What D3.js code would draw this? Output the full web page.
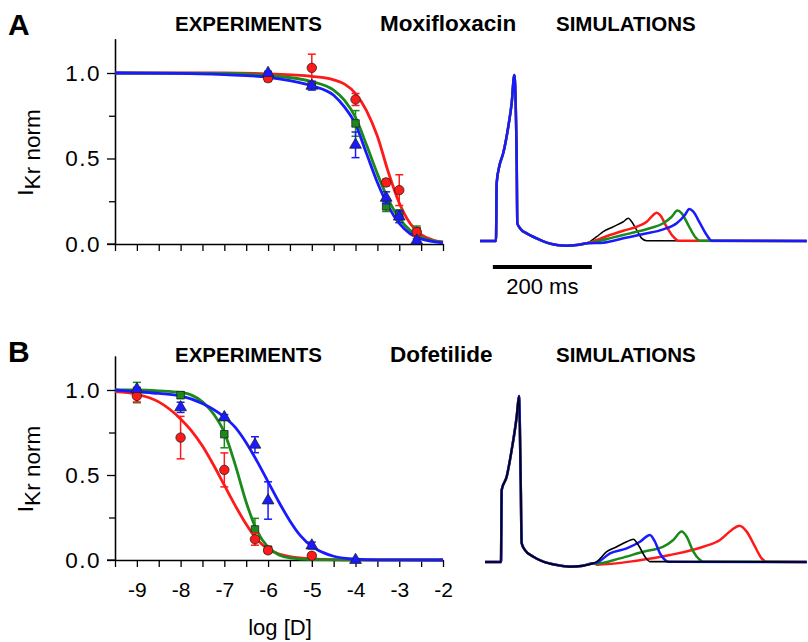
<!DOCTYPE html>
<html>
<head>
<meta charset="utf-8">
<script src="https://cdn.jsdelivr.net/npm/d3@7"></script>
<style>
body { margin: 0; background: #fff; }
svg { display: block; font-family: "Liberation Sans", Arial, sans-serif; }
</style>
</head>
<body>
<div class="chart-area"></div>
<script>
// ---- dose-response data (log [D] in M, normalised IKr) ----
const moxiDose = [-6, -5, -4, -3.3, -3, -2.6];
const moxiRed = [0.97, 1.03, 0.845, 0.36, 0.315, 0.07];
const moxiRedErr = [0.02, 0.08, 0.035, 0.02, 0.09, 0.025];
const moxiGreen = [0.98, 0.93, 0.705, 0.22, 0.17, 0.075];
const moxiGreenErr = [0.02, 0.02, 0.075, 0.03, 0.03, 0.03];
const moxiBlue = [1.0, 0.925, 0.58, 0.27, 0.16, 0.02];
const moxiBlueErr = [0.01, 0.025, 0.075, 0.035, 0.035, 0.01];

// fitted curves: [log D, IKr norm]
const moxiRedFit = [[-9.5,1],[-7,1],[-6,0.995],[-5,0.98],[-4.5,0.96],[-4.25,0.935],[-4,0.88],[-3.75,0.78],[-3.5,0.63],[-3.25,0.42],[-3,0.24],[-2.75,0.12],[-2.5,0.055],[-2.25,0.025],[-2,0.012]];
const moxiGreenFit = [[-9.5,1],[-7,0.998],[-6,0.985],[-5,0.95],[-4.5,0.9],[-4.25,0.84],[-4,0.74],[-3.75,0.58],[-3.5,0.41],[-3.25,0.26],[-3,0.15],[-2.75,0.08],[-2.5,0.04],[-2.25,0.02],[-2,0.01]];
const moxiBlueFit = [[-9.5,1],[-8,0.998],[-7,0.99],[-6,0.975],[-5.5,0.955],[-5,0.925],[-4.5,0.87],[-4.25,0.8],[-4,0.7],[-3.75,0.53],[-3.5,0.36],[-3.25,0.22],[-3,0.12],[-2.75,0.06],[-2.5,0.03],[-2.25,0.015],[-2,0.007]];

const dofeRedDose = [-9, -8, -7, -6.3, -6, -5];
const dofeRed = [0.965, 0.72, 0.53, 0.122, 0.057, 0.025];
const dofeRedErr = [0.035, 0.125, 0.1, 0.035, 0.015, 0.015];
const dofeGreenDose = [-9, -8, -7, -6.3, -6];
const dofeGreen = [0.985, 0.97, 0.74, 0.18, 0.06];
const dofeGreenErr = [0.06, 0.02, 0.08, 0.065, 0.02];
const dofeBlueDose = [-9, -8, -7, -6.3, -6, -5, -4];
const dofeBlue = [1.005, 0.898, 0.84, 0.678, 0.35, 0.085, 0.0];
const dofeBlueErr = [0.01, 0.03, 0.015, 0.047, 0.11, 0.02, 0.005];

const dofeRedFit = [[-9.5,0.99],[-9,0.975],[-8.5,0.93],[-8,0.83],[-7.75,0.76],[-7.5,0.67],[-7.25,0.56],[-7,0.44],[-6.75,0.32],[-6.5,0.21],[-6.25,0.12],[-6,0.065],[-5.75,0.035],[-5.5,0.02],[-5,0.007],[-4,0.001],[-2,0]];
const dofeGreenFit = [[-9.5,1],[-9,1],[-8.5,0.995],[-8,0.985],[-7.75,0.97],[-7.5,0.93],[-7.25,0.86],[-7,0.75],[-6.75,0.56],[-6.5,0.34],[-6.25,0.17],[-6,0.075],[-5.75,0.03],[-5.5,0.012],[-5,0.002],[-2,0]];
const dofeBlueFit = [[-9.5,1],[-9,0.99],[-8.5,0.98],[-8,0.965],[-7.5,0.92],[-7,0.84],[-6.75,0.78],[-6.5,0.69],[-6.25,0.58],[-6,0.46],[-5.75,0.34],[-5.5,0.23],[-5.25,0.14],[-5,0.08],[-4.75,0.045],[-4.5,0.022],[-4,0.005],[-3.5,0.001],[-2,0]];

// ---- simulated traces: [time ms, normalised amplitude] ----
const moxiSimCommon = [[0,0],[32.3,0],[33.7,0.35],[39,0.45],[47,0.53],[57.2,0.69],[64,0.83],[69.3,1],[74.1,0.49],[75.4,0.107],[80.8,0.077],[94.3,0.046],[114.5,0.016],[134.7,-0.01],[155,-0.024],[175,-0.028],[195.4,-0.024],[215.6,-0.014]];
const moxiSimBlack = [[222,-0.004],[235.8,0.026],[249,0.056],[269.3,0.086],[289.5,0.116],[299.6,0.137],[306.5,0.116],[316.6,0.066],[326.7,0.016],[336.8,0.002],[660,0]];
const moxiSimRed = [[235.8,0.006],[262.6,0.036],[289.5,0.062],[316.6,0.086],[336.8,0.116],[350,0.157],[357,0.17],[363.6,0.157],[377,0.086],[390.5,0.026],[400.6,0.002],[660,0]];
const moxiSimGreen = [[235.8,-0.004],[269.3,0.022],[303,0.046],[343.4,0.077],[370.3,0.107],[387.3,0.146],[398.6,0.183],[407.5,0.167],[420.8,0.096],[434.3,0.026],[444.4,0.002],[660,0]];
const moxiSimBlue = [[249,-0.01],[289.5,0.016],[330,0.042],[370.3,0.07],[397.4,0.107],[414,0.157],[422.8,0.193],[430.9,0.177],[444.4,0.107],[458,0.036],[468,0.002],[660,0]];

const dofeSimCommon = [[10.1,0],[42.4,0],[43.8,0.434],[53.9,0.514],[64,0.675],[74.1,0.875],[78.8,1],[82.2,0.494],[84.2,0.113],[90.9,0.072],[107.7,0.032],[127.9,0.002],[155,-0.018],[181.8,-0.028],[208.7,-0.022],[228.9,-0.008]];
const dofeSimBlack = [[235.8,0.002],[256,0.062],[276.2,0.092],[296.4,0.122],[309.7,0.137],[319.8,0.102],[333.3,0.032],[343.4,0.002],[660,0]];
const dofeSimBlue = [[235.8,-0.004],[262.6,0.052],[296.4,0.082],[323.2,0.122],[343.4,0.163],[353.5,0.122],[363.6,0.052],[373.7,0.012],[380.4,0.002],[660,0]];
const dofeSimGreen = [[235.8,-0.01],[282.8,0.022],[330,0.062],[370.3,0.092],[390.5,0.133],[407.5,0.183],[417.6,0.152],[431,0.062],[444.4,0.012],[451,0.002],[660,0]];
const dofeSimRed = [[235.8,-0.016],[316.6,0.008],[383.8,0.042],[451,0.092],[484.8,0.133],[508.5,0.193],[523.9,0.219],[538.8,0.183],[555.6,0.092],[569,0.022],[579.2,0.002],[660,0]];

const doseTicks = d3.range(-9.5, -1.9, 0.5);
const doseLabels = [-9, -8, -7, -6, -5, -4, -3, -2];
const yMajor = [0, 0.5, 1.0];
const yMinor = [0.25, 0.75];
const scaleBarMs = [26, 226];

const RED = "#ff1a1a", GREEN = "#1a8a1a", BLUE = "#1a1aff";

let svg = d3.select(".chart-area").append("svg")
    .attr("width", 808)
    .attr("height", 642);

let xDose = d3.scaleLinear().domain([-9.5, -2]).range([115, 443]);
let yA = d3.scaleLinear().domain([0, 1.2]).range([244, 38.8]);
let yB = d3.scaleLinear().domain([0, 1.2]).range([560, 356]);
let tSim = d3.scaleLinear().domain([0, 660]).range([480, 806.7]);
let vA = d3.scaleLinear().domain([0, 1]).range([241, 75]);
let vB = d3.scaleLinear().domain([0, 1]).range([562, 396]);

function doseAxes(yScale, withLabels) {
    let g = svg.append("g");
    let yAxis = d3.axisLeft(yScale).tickValues(yMajor).tickFormat(d3.format(".1f"))
        .tickSize(8).tickSizeOuter(0).tickPadding(6);
    let yMin = d3.axisLeft(yScale).tickValues(yMinor).tickFormat("").tickSize(6).tickSizeOuter(0);
    // plain hyphen minus, as in the original figure
    let xAxis = d3.axisBottom(xDose).tickValues(doseTicks).tickSize(7).tickSizeOuter(0).tickPadding(15)
        .tickFormat(d => (withLabels && doseLabels.includes(d)) ? String(d) : "");

    g.append("g").attr("transform", "translate(115,0)").call(yMin);
    let ya = g.append("g").attr("transform", "translate(115,0)").call(yAxis);
    let xa = g.append("g").attr("transform", `translate(0,${yScale(0)})`).call(xAxis);

    g.selectAll("text").attr("font-family", "Liberation Sans, Arial, sans-serif").attr("fill", "#000");
    xa.selectAll("text").attr("font-size", 21);
    ya.selectAll("text").attr("font-size", 22.5).attr("letter-spacing", "1.5px");
    g.selectAll("path.domain").attr("stroke", "#000").attr("stroke-width", 1.3);
    g.selectAll(".tick line").attr("stroke", "#000").attr("stroke-width", 1.3);
    // x axis line reaches out under the 0.0 tick, as in the source
    g.append("line").attr("x1", 107).attr("x2", 115).attr("y1", yScale(0)).attr("y2", yScale(0))
        .attr("stroke", "#000").attr("stroke-width", 1.3);
}

function yTitle(yScale) {
    let t = svg.append("text")
        .attr("transform", `translate(40,${yScale(0.5) - 6}) rotate(-90)`)
        .attr("text-anchor", "middle")
        .attr("font-size", 22.5);
    t.append("tspan").attr("dy", -7).text("I");
    t.append("tspan").attr("dy", 7).text("Kr norm");
}

function fitCurve(data, yScale, color) {
    let line = d3.line().x(d => xDose(d[0])).y(d => yScale(d[1])).curve(d3.curveMonotoneX);
    svg.append("path").datum(data)
        .attr("fill", "none").attr("stroke", color).attr("stroke-width", 2.8)
        .attr("d", line);
}

function points(doses, vals, errs, yScale, color, shape) {
    let g = svg.append("g");
    doses.forEach((d, i) => {
        let x = xDose(d);
        let top = yScale(vals[i] + errs[i]), bot = yScale(Math.max(0, vals[i] - errs[i]));
        g.append("line").attr("x1", x).attr("x2", x).attr("y1", top).attr("y2", bot)
            .attr("stroke", color).attr("stroke-width", 1.5);
        [top, bot].forEach(yy => g.append("line").attr("x1", x - 4).attr("x2", x + 4)
            .attr("y1", yy).attr("y2", yy).attr("stroke", color).attr("stroke-width", 1.5));
    });
    g.selectAll("path.mark").data(doses).enter().append("path")
        .attr("class", "mark")
        .attr("transform", (d, i) => `translate(${xDose(d)},${yScale(vals[i])})`)
        .attr("d", d3.symbol().type(shape).size(shape === d3.symbolTriangle ? 60 : (shape === d3.symbolSquare ? 56 : 70)))
        .attr("fill", color)
        .attr("stroke", "#222")
        .attr("stroke-width", 0.8);
}

function trace(common, tail, vScale, color, width) {
    let line = d3.line().x(d => tSim(d[0])).y(d => vScale(d[1])).curve(d3.curveMonotoneX);
    svg.append("path").datum(common.concat(tail))
        .attr("fill", "none").attr("stroke", color).attr("stroke-width", width)
        .attr("stroke-linejoin", "round")
        .attr("d", line);
}

function label(x, y, txt, size, weight, anchor) {
    svg.append("text").attr("x", x).attr("y", y)
        .attr("font-size", size).attr("font-weight", weight || "normal")
        .attr("text-anchor", anchor || "start").text(txt);
}

// ---- panel A ----
doseAxes(yA, false);
yTitle(yA);
fitCurve(moxiRedFit, yA, RED);
fitCurve(moxiGreenFit, yA, GREEN);
fitCurve(moxiBlueFit, yA, BLUE);
points(moxiDose, moxiGreen, moxiGreenErr, yA, GREEN, d3.symbolSquare);
points(moxiDose, moxiRed, moxiRedErr, yA, RED, d3.symbolCircle);
points(moxiDose, moxiBlue, moxiBlueErr, yA, BLUE, d3.symbolTriangle);

trace(moxiSimCommon, moxiSimBlack, vA, "#000", 1.5);
trace(moxiSimCommon, moxiSimRed, vA, RED, 2.5);
trace(moxiSimCommon, moxiSimGreen, vA, GREEN, 2.5);
trace(moxiSimCommon, moxiSimBlue, vA, BLUE, 2.5);

svg.append("line")
    .attr("x1", tSim(scaleBarMs[0])).attr("x2", tSim(scaleBarMs[1]))
    .attr("y1", 267).attr("y2", 267)
    .attr("stroke", "#000").attr("stroke-width", 4);
label((tSim(scaleBarMs[0]) + tSim(scaleBarMs[1])) / 2, 294, "200 ms", 22, "normal", "middle");

label(8, 35, "A", 30, "bold");
label(175, 31, "EXPERIMENTS", 20.5, "bold");
label(380, 31, "Moxifloxacin", 22.5, "bold");
label(556, 31, "SIMULATIONS", 20.5, "bold");

// ---- panel B ----
doseAxes(yB, true);
yTitle(yB);
fitCurve(dofeRedFit, yB, RED);
fitCurve(dofeGreenFit, yB, GREEN);
fitCurve(dofeBlueFit, yB, BLUE);
points(dofeGreenDose, dofeGreen, dofeGreenErr, yB, GREEN, d3.symbolSquare);
points(dofeRedDose, dofeRed, dofeRedErr, yB, RED, d3.symbolCircle);
points(dofeBlueDose, dofeBlue, dofeBlueErr, yB, BLUE, d3.symbolTriangle);

trace(dofeSimCommon, dofeSimRed, vB, RED, 2.5);
trace(dofeSimCommon, dofeSimGreen, vB, GREEN, 2.5);
trace(dofeSimCommon, dofeSimBlue, vB, BLUE, 2.5);
trace(dofeSimCommon, dofeSimBlack, vB, "#000", 1.6);

label(8, 362, "B", 30, "bold");
label(175, 362, "EXPERIMENTS", 20.5, "bold");
label(390, 362, "Dofetilide", 22.5, "bold");
label(556, 362, "SIMULATIONS", 20.5, "bold");

label(280, 635, "log [D]", 22, "normal", "middle");
</script>
</body>
</html>
